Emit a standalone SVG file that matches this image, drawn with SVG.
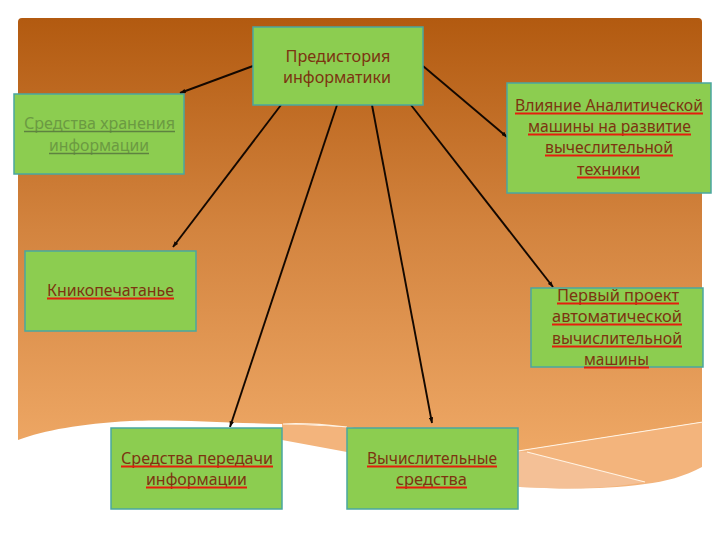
<svg xmlns="http://www.w3.org/2000/svg" width="720" height="540" viewBox="0 0 720 540">
<defs>
<linearGradient id="bg" x1="0" y1="18" x2="0" y2="490" gradientUnits="userSpaceOnUse">
<stop offset="0" stop-color="#b25a10"/>
<stop offset="0.45" stop-color="#d3843f"/>
<stop offset="1" stop-color="#f3ae6c"/>
</linearGradient>
<marker id="ah" viewBox="0 0 8 6" refX="7.5" refY="3" markerWidth="6" markerHeight="4.5" markerUnits="userSpaceOnUse" orient="auto">
<path d="M0,0 L8,3 L0,6 Z" fill="#140800"/>
</marker>
<style>
.node{fill:#8ccd50;stroke:#4aa6a0;stroke-width:1.5}
.t{font-family:"Noto Sans","DejaVu Sans",sans-serif;font-size:15.5px;fill:#7c3410;text-anchor:middle}
.tg{font-family:"Noto Sans","DejaVu Sans",sans-serif;font-size:15.5px;fill:#6b9a42;text-anchor:middle}
.ul{stroke:#e41e0c;stroke-width:1.8}
.ulg{stroke:#5e8240;stroke-width:1.3}
.conn{stroke:#140800;stroke-width:1.9;fill:none;marker-end:url(#ah)}
.hl{stroke:#fff3e4;stroke-width:1.1;fill:none}
</style>
</defs>
<rect x="0" y="0" width="720" height="540" fill="#ffffff"/>
<g id="background">
<path d="M18,22 Q18,18 22,18 H698 Q702,18 702,22 V422 L518,451 L347,427 C330,425 300,424 282,424 C230,423 170,419 130,421 C80,424 45,430 18,440 Z" fill="url(#bg)"/>
<path d="M282,424 L347,427 L518,451 L702,422 V467 C685,476 665,482 645,484 C600,490 560,489 520,487 L347,452 L282,440 Z" fill="#f3b47c"/>
<path d="M527,452 L645,482 C600,490 560,489 520,487 L347,452 L347,440 Z" fill="#f4c39c" opacity="0.8"/>
<path d="M283,424 C300,423 320,424 347,427" class="hl"/>
<path d="M518,451 L703,422" class="hl"/>
<path d="M527,452 L645,482" class="hl"/>
</g>
<g id="connectors">
<line x1="253" y1="66" x2="180" y2="93" class="conn"/>
<line x1="281" y1="105" x2="173" y2="247" class="conn"/>
<line x1="337" y1="105" x2="230" y2="427" class="conn"/>
<line x1="372" y1="105" x2="432" y2="423" class="conn"/>
<line x1="411" y1="105" x2="553" y2="287" class="conn"/>
<line x1="423" y1="66" x2="507" y2="137" class="conn"/>
</g>
<g id="node-predistoriya">
<rect x="253" y="27" width="170" height="78" class="node"/>
<text class="t" x="338" y="62" textLength="105" lengthAdjust="spacingAndGlyphs">Предистория</text>
<text class="t" x="337" y="83" textLength="108" lengthAdjust="spacingAndGlyphs">информатики</text>
</g>
<g id="node-hranenie">
<rect x="14" y="94" width="170" height="80" class="node"/>
<text class="tg" x="99.5" y="129" textLength="151" lengthAdjust="spacingAndGlyphs">Средства хранения</text>
<line x1="24" y1="131.5" x2="175" y2="131.5" class="ulg"/>
<text class="tg" x="99" y="151" textLength="100" lengthAdjust="spacingAndGlyphs">информации</text>
<line x1="49" y1="153.5" x2="149" y2="153.5" class="ulg"/>
</g>
<g id="node-vliyanie">
<rect x="507" y="83" width="204" height="110" class="node"/>
<text class="t" x="609" y="111" textLength="188" lengthAdjust="spacingAndGlyphs">Влияние Аналитической</text>
<line x1="515" y1="113.5" x2="703" y2="113.5" class="ul"/>
<text class="t" x="609.5" y="132" textLength="163" lengthAdjust="spacingAndGlyphs">машины на развитие</text>
<line x1="528" y1="134.5" x2="691" y2="134.5" class="ul"/>
<text class="t" x="609" y="153" textLength="128" lengthAdjust="spacingAndGlyphs">вычеслительной</text>
<line x1="545" y1="155.5" x2="673" y2="155.5" class="ul"/>
<text class="t" x="608.5" y="175" textLength="63" lengthAdjust="spacingAndGlyphs">техники</text>
<line x1="577" y1="177.5" x2="640" y2="177.5" class="ul"/>
</g>
<g id="node-knikopechatanie">
<rect x="25" y="251" width="171" height="80" class="node"/>
<text class="t" x="110.5" y="296" textLength="127" lengthAdjust="spacingAndGlyphs">Кникопечатанье</text>
<line x1="47" y1="298.5" x2="174" y2="298.5" class="ul"/>
</g>
<g id="node-pervyi-proekt">
<rect x="531" y="288" width="172" height="79" class="node"/>
<text class="t" x="618" y="301" textLength="122" lengthAdjust="spacingAndGlyphs">Первый проект</text>
<line x1="557" y1="303.5" x2="679" y2="303.5" class="ul"/>
<text class="t" x="617" y="322" textLength="130" lengthAdjust="spacingAndGlyphs">автоматической</text>
<line x1="552" y1="324.5" x2="682" y2="324.5" class="ul"/>
<text class="t" x="617" y="344" textLength="130" lengthAdjust="spacingAndGlyphs">вычислительной</text>
<line x1="552" y1="346.5" x2="682" y2="346.5" class="ul"/>
<text class="t" x="616.5" y="365" textLength="65" lengthAdjust="spacingAndGlyphs">машины</text>
<line x1="584" y1="367.5" x2="649" y2="367.5" class="ul"/>
</g>
<g id="node-peredachi">
<rect x="111" y="428" width="171" height="81" class="node"/>
<text class="t" x="197" y="464" textLength="152" lengthAdjust="spacingAndGlyphs">Средства передачи</text>
<line x1="121" y1="466.5" x2="273" y2="466.5" class="ul"/>
<text class="t" x="196.5" y="485" textLength="101" lengthAdjust="spacingAndGlyphs">информации</text>
<line x1="146" y1="487.5" x2="247" y2="487.5" class="ul"/>
</g>
<g id="node-vychislitelnye">
<rect x="347" y="428" width="171" height="81" class="node"/>
<text class="t" x="432" y="464" textLength="130" lengthAdjust="spacingAndGlyphs">Вычислительные</text>
<line x1="367" y1="466.5" x2="497" y2="466.5" class="ul"/>
<text class="t" x="431.5" y="485" textLength="71" lengthAdjust="spacingAndGlyphs">средства</text>
<line x1="396" y1="487.5" x2="467" y2="487.5" class="ul"/>
</g>
</svg>
